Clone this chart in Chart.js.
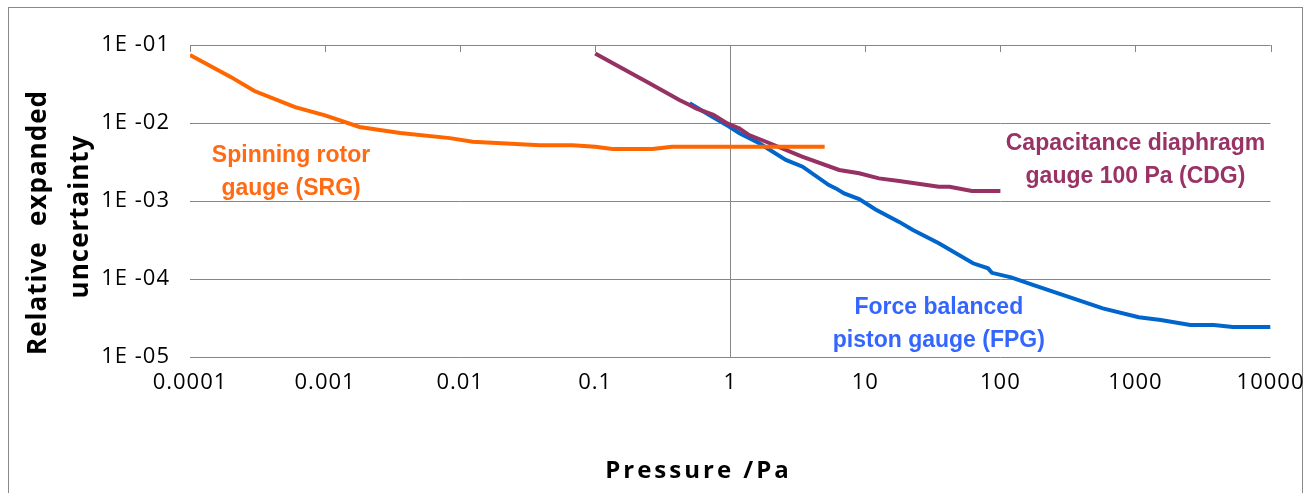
<!DOCTYPE html>
<html>
<head>
<meta charset="utf-8">
<script src="https://cdn.jsdelivr.net/npm/chart.js@4.4.0/dist/chart.umd.min.js"></script>
<style>
  html, body { margin: 0; padding: 0; background: #fff; }
  #wrap { width: 1315px; height: 493px; }
</style>
</head>
<body>
<div id="wrap"><canvas id="chart" width="1315" height="493"></canvas></div>
<script>
// axis ticks
const xTicks = [0.0001, 0.001, 0.01, 0.1, 1, 10, 100, 1000, 10000];
const xTickLabels = ['0.0001', '0.001', '0.01', '0.1', '1', '10', '100', '1000', '10000'];
const yTicks = [1e-5, 1e-4, 1e-3, 1e-2, 1e-1];
const yTickLabels = ['1E -05', '1E -04', '1E -03', '1E -02', '1E -01'];

// spinning rotor gauge
const srgPressure = [0.0001, 0.0002, 0.0003, 0.0006, 0.001, 0.0018, 0.0036, 0.0084, 0.0124, 0.039, 0.068, 0.1, 0.134, 0.265, 0.37, 5];
const srgUnc = [0.0744, 0.039, 0.0257, 0.016, 0.0125, 0.0089, 0.00745, 0.0064, 0.00575, 0.0052, 0.0052, 0.00497, 0.00465, 0.00465, 0.00497, 0.00497];

// capacitance diaphragm gauge
const cdgPressure = [0.1, 0.158, 0.252, 0.42, 0.5, 0.557, 0.75, 0.95, 1.17, 1.38, 1.84, 3.4, 6.4, 9.0, 12.6, 17.8, 35, 42, 61.5, 100];
const cdgUnc = [0.078, 0.0503, 0.0323, 0.0197, 0.017, 0.0154, 0.0127, 0.0099, 0.0085, 0.007, 0.00575, 0.0037, 0.0025, 0.00227, 0.00195, 0.00181, 0.00152, 0.00152, 0.00134, 0.00134];

// force balanced piston gauge
const fpgPressure = [0.5, 0.736, 0.98, 1.17, 1.64, 2.58, 3.43, 5.37, 6.05, 6.97, 9.0, 11.9, 17.8, 22.5, 35, 62.7, 81, 86.5, 120, 174, 573, 1057, 1540, 2545, 3800, 5250, 10000];
const fpgUnc = [0.0179, 0.012, 0.009, 0.0074, 0.0055, 0.00336, 0.00275, 0.0016, 0.00145, 0.00125, 0.00106, 0.00078, 0.00054, 0.000425, 0.000287, 0.000159, 0.000137, 0.00012, 0.000105, 0.000084, 0.000042, 0.0000323, 0.0000298, 0.0000257, 0.0000257, 0.0000243, 0.0000243];

// in-plot labels, anchored at (pressure, uncertainty) of the first line's baseline
const notes = [
  { lines: ['Spinning rotor', 'gauge (SRG)'], x: 5.6e-4, y: 3.2e-3, color: '#FF6A13' },
  { lines: ['Capacitance diaphragm', 'gauge 100 Pa (CDG)'], x: 1000, y: 4.5e-3, color: '#993366' },
  { lines: ['Force balanced', 'piston gauge (FPG)'], x: 35, y: 3.6e-5, color: '#3366FF' }
];

function pts(xs, ys) { return xs.map((x, i) => ({ x: x, y: ys[i] })); }

function spacedText(ctx, text, x, y, spacing) {
  ctx.letterSpacing = spacing + 'px';
  const w = ctx.measureText(text).width - spacing;
  ctx.textAlign = 'left';
  ctx.fillText(text, x - w / 2, y);
  ctx.letterSpacing = '0px';
}

const decor = {
  id: 'decor',
  beforeDraw(chart) {
    const ctx = chart.ctx;
    ctx.save();
    ctx.fillStyle = '#fff';
    ctx.fillRect(0, 0, chart.width, chart.height);
    ctx.strokeStyle = '#898989';
    ctx.lineWidth = 1;
    ctx.strokeRect(8.5, 7.5, 1294, 500);
    ctx.restore();
    chart.ctx.letterSpacing = '1px';
  },
  beforeDatasetsDraw(chart) {
    const ctx = chart.ctx, a = chart.chartArea;
    const xs = chart.scales.x, ys = chart.scales.y;
    ctx.save();
    ctx.letterSpacing = '0px';
    ctx.strokeStyle = '#868686';
    ctx.lineWidth = 1;
    const x1 = Math.round(xs.getPixelForValue(1)) + 0.5;
    ctx.beginPath();
    ctx.moveTo(x1, a.top);
    ctx.lineTo(x1, a.bottom);
    xTicks.forEach(v => {
      const px = Math.round(xs.getPixelForValue(v)) + 0.5;
      ctx.moveTo(px, a.top);
      ctx.lineTo(px, a.top + 7);
    });
    yTicks.forEach(v => {
      const py = Math.round(ys.getPixelForValue(v)) + 0.5;
      ctx.moveTo(x1 - 5, py);
      ctx.lineTo(x1, py);
    });
    ctx.stroke();
    ctx.restore();
  },
  afterDraw(chart) {
    const ctx = chart.ctx;
    const xs = chart.scales.x, ys = chart.scales.y;
    ctx.save();
    ctx.letterSpacing = '0px';
    ctx.textBaseline = 'alphabetic';
    ctx.font = 'bold 23px "Liberation Sans", Arial, sans-serif';
    notes.forEach(n => {
      const cx = xs.getPixelForValue(n.x), by = ys.getPixelForValue(n.y);
      ctx.fillStyle = n.color;
      ctx.textAlign = 'center';
      n.lines.forEach((t, i) => ctx.fillText(t, cx, by + i * 33));
    });

    ctx.fillStyle = '#000';
    ctx.font = 'bold 24px "Open Sans", sans-serif';
    spacedText(ctx, 'Pressure /Pa', 697, 478, 3);

    ctx.font = 'bold 26px "Open Sans", sans-serif';
    ctx.save();
    ctx.translate(46, 223);
    ctx.rotate(-Math.PI / 2);
    spacedText(ctx, 'Relative  expanded', 0, 0, 1);
    ctx.restore();
    ctx.save();
    ctx.translate(88, 217);
    ctx.rotate(-Math.PI / 2);
    spacedText(ctx, 'uncertainty', 0, 0, 1);
    ctx.restore();
    ctx.restore();
  }
};

const lineStyle = { showLine: true, pointRadius: 0, borderWidth: 4, fill: false, tension: 0 };

new Chart(document.getElementById('chart'), {
  type: 'scatter',
  data: {
    datasets: [
      Object.assign({ label: 'Spinning rotor gauge (SRG)', data: pts(srgPressure, srgUnc), borderColor: '#FF6600', order: 0 }, lineStyle),
      Object.assign({ label: 'Capacitance diaphragm gauge 100 Pa (CDG)', data: pts(cdgPressure, cdgUnc), borderColor: '#953163', order: 1 }, lineStyle),
      Object.assign({ label: 'Force balanced piston gauge (FPG)', data: pts(fpgPressure, fpgUnc), borderColor: '#0066CC', order: 2 }, lineStyle)
    ]
  },
  options: {
    responsive: false,
    animation: false,
    layout: { padding: { left: 0, right: 43, top: 45, bottom: 0 } },
    plugins: { legend: { display: false }, tooltip: { enabled: false } },
    scales: {
      x: {
        type: 'logarithmic', position: 'bottom', min: 1e-4, max: 1e4,
        afterBuildTicks: s => { s.ticks = xTicks.map(v => ({ value: v })); },
        afterFit: s => { s.height = 136; },
        grid: { display: false, drawTicks: false },
        border: { display: false },
        ticks: {
          callback: (v, i) => xTickLabels[i],
          font: { family: '"Open Sans", sans-serif', size: 22 },
          color: '#000', padding: 13, maxRotation: 0, autoSkip: false
        }
      },
      y: {
        type: 'logarithmic', position: 'left', min: 1e-5, max: 1e-1,
        afterBuildTicks: s => { s.ticks = yTicks.map(v => ({ value: v })); },
        afterFit: s => { s.width = 190; },
        grid: { color: '#868686', lineWidth: 1, drawTicks: false },
        border: { display: false },
        ticks: {
          callback: (v, i) => yTickLabels[i],
          font: { family: '"Open Sans", sans-serif', size: 22 },
          color: '#000', padding: 20, autoSkip: false
        }
      }
    }
  },
  plugins: [decor]
});
</script>
</body>
</html>
